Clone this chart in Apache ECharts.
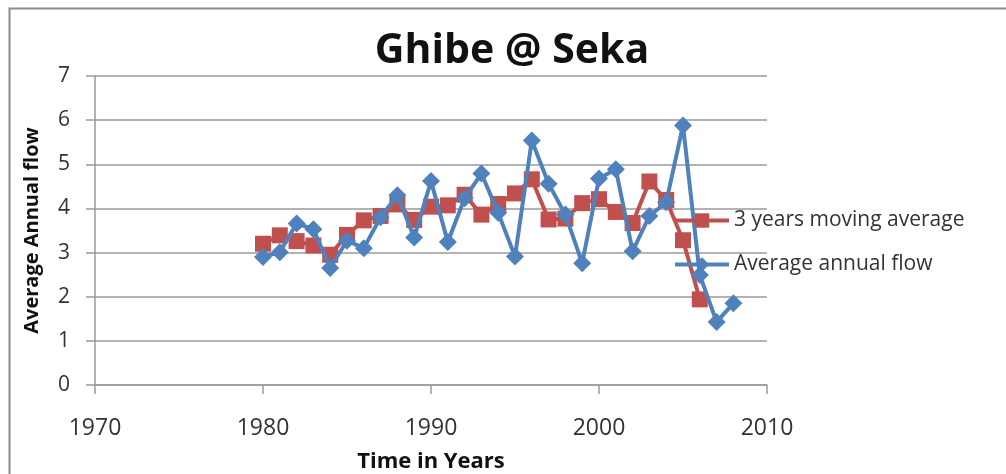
<!DOCTYPE html>
<html>
<head>
<meta charset="utf-8">
<script src="https://cdn.jsdelivr.net/npm/echarts@6/dist/echarts.min.js"></script>
<style>
  html, body { margin: 0; padding: 0; background: #fff; overflow: hidden; }
  #chart { width: 1006px; height: 474px; }
</style>
</head>
<body>
<div id="chart"></div>
<script>
// Years of record
const flowYears = [1980, 1981, 1982, 1983, 1984, 1985, 1986, 1987, 1988, 1989,
                   1990, 1991, 1992, 1993, 1994, 1995, 1996, 1997, 1998, 1999,
                   2000, 2001, 2002, 2003, 2004, 2005, 2006, 2007, 2008];
// Average annual flow at Seka
const annualFlow = [2.90, 3.01, 3.66, 3.53, 2.65, 3.27, 3.10, 3.80, 4.30, 3.34,
                    4.62, 3.24, 4.23, 4.79, 3.90, 2.91, 5.54, 4.56, 3.86, 2.76,
                    4.68, 4.89, 3.03, 3.83, 4.14, 5.88, 2.49, 1.43, 1.85];
// Years that have a 3-year moving average
const avgYears = [1980, 1981, 1982, 1983, 1984, 1985, 1986, 1987, 1988, 1989,
                  1990, 1991, 1992, 1993, 1994, 1995, 1996, 1997, 1998, 1999,
                  2000, 2001, 2002, 2003, 2004, 2005, 2006];
const movingAvg = [3.20, 3.39, 3.26, 3.16, 2.95, 3.40, 3.73, 3.83, 4.09, 3.74,
                   4.04, 4.07, 4.31, 3.86, 4.10, 4.34, 4.66, 3.75, 3.77, 4.12,
                   4.21, 3.92, 3.67, 4.61, 4.19, 3.28, 1.94];
// Axis ticks
const xTicks = [1970, 1980, 1990, 2000, 2010];
const yTicks = [0, 1, 2, 3, 4, 5, 6, 7];

const FONT = '"Open Sans", Lato, "DejaVu Sans", sans-serif';
const RED = '#C0504D';
const BLUE = '#4F81BD';
const GRID = '#9a9a9a';

const pairs = (xs, ys) => xs.map((x, i) => [x, ys[i]]);

const chart = echarts.init(document.getElementById('chart'), null, { renderer: 'canvas' });

chart.setOption({
  backgroundColor: '#ffffff',
  animation: false,
  graphic: [{
    type: 'rect',
    left: 7, top: 6,
    shape: { x: 0, y: 0, width: 1010, height: 480 },
    style: { fill: 'none', stroke: '#8c8c8c', lineWidth: 2 },
    silent: true
  }],
  title: {
    text: 'Ghibe @ Seka',
    left: 507,
    textAlign: 'center',
    top: 26,
    textStyle: { fontFamily: FONT, fontSize: 41, fontWeight: 'bold', color: '#111' }
  },
  legend: {
    orient: 'vertical',
    left: 668,
    top: 203,
    itemWidth: 54,
    itemHeight: 18,
    itemGap: 19,
    data: ['3 years moving average', 'Average annual flow'],
    lineStyle: { width: 4 },
    textStyle: { fontFamily: FONT, fontSize: 21, color: '#333', lineHeight: 25 }
  },
  grid: { left: 95, right: 239, top: 76, bottom: 89, containLabel: false, outerBoundsMode: 'none' },
  xAxis: {
    type: 'value',
    min: xTicks[0],
    max: xTicks[xTicks.length - 1],
    interval: xTicks[1] - xTicks[0],
    name: 'Time in Years',
    nameLocation: 'middle',
    nameGap: 66,
    nameTextStyle: { fontFamily: FONT, fontSize: 22, fontWeight: 'bold', color: '#111' },
    axisLine: { show: true, onZero: false, lineStyle: { color: GRID, width: 1.5 } },
    axisTick: { show: true, length: 9, lineStyle: { color: GRID, width: 1.5 } },
    axisLabel: { fontFamily: FONT, fontSize: 23, color: '#333', margin: 32, formatter: v => String(v) },
    splitLine: { show: false }
  },
  yAxis: {
    type: 'value',
    min: yTicks[0],
    max: yTicks[yTicks.length - 1],
    interval: 1,
    name: 'Average Annual flow',
    nameLocation: 'middle',
    nameRotate: 90,
    nameGap: 53,
    nameTextStyle: { fontFamily: FONT, fontSize: 20, fontWeight: 'bold', color: '#111' },
    axisLine: { show: true, lineStyle: { color: GRID, width: 1.5 } },
    axisTick: { show: true, length: 9, lineStyle: { color: GRID, width: 1.5 } },
    axisLabel: { fontFamily: FONT, fontSize: 21, color: '#333', margin: 25 },
    splitLine: { show: true, lineStyle: { color: GRID, width: 1.5 } }
  },
  series: [
    {
      name: '3 years moving average',
      type: 'line',
      data: pairs(avgYears, movingAvg),
      symbol: 'rect',
      symbolSize: 16,
      lineStyle: { color: RED, width: 4 },
      itemStyle: { color: RED },
      z: 2
    },
    {
      name: 'Average annual flow',
      type: 'line',
      data: pairs(flowYears, annualFlow),
      symbol: 'diamond',
      symbolSize: 18,
      lineStyle: { color: BLUE, width: 4 },
      itemStyle: { color: BLUE },
      z: 3
    }
  ]
});
</script>
</body>
</html>
